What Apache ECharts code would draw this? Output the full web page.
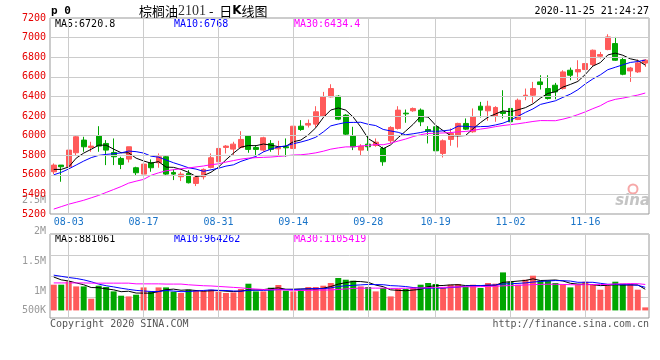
<!DOCTYPE html>
<html><head><meta charset="utf-8">
<script src="https://cdn.jsdelivr.net/npm/echarts@6/dist/echarts.min.js"></script>
<style>html,body{margin:0;padding:0;background:#fff}#c{width:660px;height:360px}</style>
</head><body><div id="c"></div>
<script>
const dates = ['07-30','07-31','08-03','08-04','08-05','08-06','08-07','08-10','08-11','08-12','08-13','08-14','08-17','08-18','08-19','08-20','08-21','08-24','08-25','08-26','08-27','08-28','08-31','09-01','09-02','09-03','09-04','09-07','09-08','09-09','09-10','09-11','09-14','09-15','09-16','09-17','09-18','09-21','09-22','09-23','09-24','09-25','09-28','09-29','09-30','10-09','10-12','10-13','10-14','10-15','10-16','10-19','10-20','10-21','10-22','10-23','10-26','10-27','10-28','10-29','10-30','11-02','11-03','11-04','11-05','11-06','11-09','11-10','11-11','11-12','11-13','11-16','11-17','11-18','11-19','11-20','11-23','11-24','11-25','11-26'];
const labelDates = ['08-03','08-17','08-31','09-14','09-28','10-19','11-02','11-16'];
const priceGridValues = [5400,5600,5800,6000,6200,6400,6600,6800,7000];
const opens  = [5631,5699,5682,5825,5954,5879,5995,5920,5828,5767,5760,5672,5607,5723,5723,5784,5624,5580,5614,5512,5580,5675,5733,5879,5862,5879,5995,5879,5852,5920,5865,5886,5869,6096,6107,6117,6198,6395,6402,6209,5995,5852,5913,5899,5869,5947,6073,6229,6253,6260,6062,6090,5818,5961,6005,6124,6039,6300,6253,6198,6243,6277,6164,6402,6412,6548,6480,6514,6480,6667,6650,6674,6725,6810,6878,6939,6776,6660,6650,6740];
const closes = [5699,5682,5852,5988,5886,5893,5893,5852,5784,5706,5886,5621,5709,5672,5784,5607,5607,5607,5519,5573,5655,5774,5869,5893,5913,5961,5859,5859,5978,5859,5879,5876,6096,6062,6124,6243,6395,6480,6168,6015,5886,5893,5886,5933,5733,6083,6260,6222,6277,6141,6045,5845,5947,6022,6124,6066,6192,6260,6300,6287,6226,6141,6361,6412,6480,6521,6378,6446,6650,6616,6674,6735,6871,6827,7007,6769,6626,6690,6742,6770];
const lows   = [5607,5529,5665,5801,5835,5835,5835,5699,5699,5658,5726,5597,5546,5631,5672,5587,5546,5536,5512,5485,5553,5665,5723,5818,5801,5869,5825,5801,5835,5835,5801,5784,5859,6049,6083,6083,6185,6389,6158,6005,5852,5801,5845,5886,5692,5920,6062,6131,6243,6097,5920,5818,5777,5896,5879,6056,6029,6185,6151,6141,6175,6107,6158,6361,6334,6470,6368,6371,6470,6565,6565,6667,6708,6786,6871,6762,6616,6548,6640,6701];
const highs  = [5716,5699,5903,6005,5988,5937,6096,5954,5971,5784,5886,5682,5791,5757,5818,5801,5655,5631,5648,5597,5665,5818,5886,5903,5937,6045,6005,5903,5988,5954,5947,5971,6107,6158,6164,6300,6446,6524,6412,6219,6090,5913,6005,5971,5886,6096,6300,6266,6287,6277,6096,6096,5961,6073,6131,6175,6277,6344,6355,6300,6463,6287,6378,6480,6548,6616,6616,6538,6667,6694,6769,6786,6878,6854,7034,7007,6803,6701,6776,6780];
const ma5  = [5655,5655,5680,5770,5821.4,5860.2,5902.4,5902.4,5861.6,5825.6,5824.2,5769.8,5741.2,5718.8,5734.4,5678.6,5675.8,5655.4,5624.8,5582.6,5592.2,5625.6,5678,5752.8,5820.8,5882,5899,5897,5914,5903.2,5886.8,5890.2,5937.6,5954.4,6007.4,6080.2,6184,6260.8,6282,6260.2,6188.8,6088.4,5969.6,5922.6,5866.2,5905.6,5979,6046.2,6115,6196.6,6189,6106,6051,6000,5996.6,6000.8,6070.2,6132.8,6188.4,6221,6253,6242.8,6263,6285.4,6324,6383,6430.4,6447.4,6495,6522.2,6552.8,6624.2,6709.2,6744.6,6822.8,6841.8,6820,6783.8,6766.8,6719.4];
const ma10 = [5600,5625,5660,5700,5740,5775,5798,5808,5815,5823.5,5842.2,5836.1,5821.8,5790.2,5780,5751.4,5722.8,5698.3,5671.8,5658.5,5635.4,5650.7,5666.7,5688.8,5701.7,5737.1,5762.3,5787.5,5833.4,5862,5884.4,5894.6,5917.3,5934.2,5955.3,5983.5,6037.1,6099.2,6118.2,6133.8,6134.5,6136.2,6115.2,6102.3,6063.2,6047.2,6033.7,6007.9,6018.8,6031.4,6047.3,6042.5,6048.6,6057.5,6096.6,6094.9,6088.1,6091.9,6094.2,6108.8,6126.9,6156.5,6197.9,6236.9,6272.5,6318,6336.6,6355.2,6390.2,6423.1,6467.9,6527.3,6578.3,6619.8,6672.5,6697.3,6722.1,6746.5,6755.7,6771.1];
const ma30 = [5250,5275,5300,5320,5340,5365,5390,5420,5450,5480,5515,5535,5553,5595,5620,5641,5652,5662,5670,5680,5690,5703,5712,5730,5745,5760,5770,5775,5778,5781.3,5787.3,5793.8,5801.9,5804.4,5812.3,5824,5840.7,5861.7,5874.5,5884.8,5884.8,5893.8,5899.7,5908.4,5906.7,5922.6,5944.4,5964.9,5990.1,6009.1,6022.1,6024.4,6027,6031.3,6038.4,6041.9,6053,6066.3,6077.1,6091.3,6102.9,6111.7,6120.6,6132.2,6144.1,6153.4,6152.8,6151.7,6167.7,6187.8,6214,6242.1,6274.9,6304.7,6347.2,6370.1,6382.3,6397.9,6413.4,6434.3];
const vols = [1094000,1094000,1234000,1021000,1021000,498000,1051000,996000,809000,626000,596000,668000,979000,796000,979000,979000,796000,740000,881000,838000,838000,881000,796000,740000,766000,911000,1136000,809000,809000,966000,1081000,838000,809000,868000,996000,996000,1051000,1166000,1379000,1306000,1264000,1021000,996000,809000,953000,596000,911000,911000,966000,1094000,1166000,1123000,953000,1094000,1123000,996000,1094000,953000,1166000,1136000,1617000,1221000,1094000,1306000,1477000,1264000,1264000,1166000,1094000,979000,1094000,1221000,1094000,881000,1051000,1221000,1136000,1136000,881000,128000];
const vma5 = [1420000,1300000,1250000,1170000,1093000,974000,965000,917000,875000,796000,816000,739000,736000,733000,804000,880000,906000,858000,875000,847000,819000,836000,847000,819000,804000,819000,870000,872000,886000,926000,960000,901000,901000,912000,918000,901000,944000,1015000,1118000,1180000,1233000,1227000,1193000,1079000,1009000,875000,853000,836000,867000,896000,1010000,1052000,1060000,1086000,1092000,1058000,1052000,1052000,1066000,1069000,1193000,1219000,1247000,1275000,1343000,1272000,1281000,1295000,1253000,1153000,1119000,1111000,1096000,1054000,1068000,1094000,1077000,1085000,1085000,900000];
const vma10 = [1500000,1450000,1400000,1360000,1300000,1220000,1120000,1050000,1000000,944000,895000,852000,827000,804000,800000,848000,822000,797000,804000,825000,849000,871000,852000,847000,826000,819000,853000,860000,852000,865000,890000,885000,887000,899000,922000,931000,922000,958000,1015000,1049000,1067000,1086000,1104000,1098000,1094000,1054000,1040000,1015000,973000,952000,942000,953000,948000,977000,994000,1034000,1052000,1056000,1076000,1080000,1126000,1135000,1149000,1171000,1206000,1233000,1250000,1271000,1264000,1248000,1196000,1196000,1196000,1153000,1111000,1107000,1094000,1091000,1069000,984000];
const vma30 = [1170000,1170000,1170000,1170000,1170000,1160000,1160000,1160000,1160000,1160000,1160000,1130000,1130000,1130000,1130000,1120000,1120000,1120000,1090000,1070000,1050000,1040000,1020000,1000000,980000,960000,930000,910000,890000,878000,878000,869000,855000,850000,849000,866000,866000,871000,890000,913000,935000,947000,948000,948000,947000,935000,938000,944000,947000,955000,966000,974000,980000,991000,1003000,1006000,1005000,1010000,1022000,1027000,1045000,1058000,1067000,1082000,1098000,1107000,1114000,1114000,1104000,1094000,1088000,1095000,1098000,1100000,1104000,1124000,1132000,1139000,1137000,1104000];
const volTickLabels = ['2.5M','2M','1.5M','1M','500K'];
const priceMA = ['MA5:6720.8','MA10:6768','MA30:6434.4'];
const volMA = ['MA5:881061','MA10:964262','MA30:1105419'];

const UP = '#ff5a5a', DOWN = '#00a600';
const MONO = '"DejaVu Sans Mono", "Liberation Mono", monospace';
const GRIDC = '#cccccc';
const kdata = dates.map((d, i) => [opens[i], closes[i], lows[i], highs[i]]);

const chart = echarts.init(document.getElementById('c'), null, {renderer: 'canvas'});
const volLabelY = [200, 231, 261, 291, 310];
const maColors = ['#000000', '#0000ff', '#ff00ff'];
const maX = [55, 174, 294];

const graphics = [
  {type: 'text', style: {text: 'p 0', x: 51, y: 11, fill: '#000', font: 'bold 11px ' + MONO, verticalAlign: 'middle', textVerticalAlign: 'middle'}},
  {type: 'text', style: {
    text: '{a|棕榈油}{b|2101}{a| -  日}{k|K}{a|线图}', x: 139, y: 11, verticalAlign: 'middle', textVerticalAlign: 'middle',
    rich: {
      a: {fontFamily: '"Noto Sans CJK SC"', fontSize: 13, fill: '#000', color: '#000'},
      b: {fontFamily: '"Liberation Serif", "DejaVu Serif", serif', fontSize: 14, fill: '#333', color: '#333'},
      k: {fontFamily: '"DejaVu Sans", sans-serif', fontSize: 12, fontWeight: 'bold', fill: '#000', color: '#000'}
    }}},
  {type: 'text', style: {text: '2020-11-25 21:24:27', x: 649, y: 11, fill: '#000', font: '10px ' + MONO, align: 'right', textAlign: 'right', verticalAlign: 'middle', textVerticalAlign: 'middle'}},
  {type: 'text', style: {text: 'Copyright 2020 SINA.COM', x: 50, y: 324, fill: '#555', font: '10px ' + MONO, verticalAlign: 'middle', textVerticalAlign: 'middle'}},
  {type: 'text', style: {text: 'http://finance.sina.com.cn', x: 649, y: 324, fill: '#555', font: '10px ' + MONO, align: 'right', textAlign: 'right', verticalAlign: 'middle', textVerticalAlign: 'middle'}},
  {type: 'circle', shape: {cx: 633, cy: 189, r: 4.5}, style: {fill: 'none', stroke: '#f6a8a8', lineWidth: 2}},
  {type: 'text', style: {text: 'sina', x: 650, y: 201, fill: '#c4c4c4', font: 'italic bold 15px "DejaVu Sans", sans-serif', align: 'right', textAlign: 'right', verticalAlign: 'middle', textVerticalAlign: 'middle'}}
];
priceMA.forEach((t, i) => graphics.push({type: 'text', style: {text: t, x: maX[i], y: 24, fill: maColors[i], font: '10px ' + MONO, verticalAlign: 'middle', textVerticalAlign: 'middle'}}));
volMA.forEach((t, i) => graphics.push({type: 'text', style: {text: t, x: maX[i], y: 239, fill: maColors[i], font: '10px ' + MONO, verticalAlign: 'middle', textVerticalAlign: 'middle'}}));
volTickLabels.forEach((t, i) => graphics.push({type: 'text', style: {text: t, x: 46, y: volLabelY[i], fill: '#999', font: '10px ' + MONO, align: 'right', textAlign: 'right', verticalAlign: 'middle', textVerticalAlign: 'middle'}}));

const gridLine = {color: GRIDC, width: 1, type: 'solid'};
const markGrid = (items) => ({
  silent: true, symbol: ['none', 'none'], label: {show: false}, animation: false,
  emphasis: {disabled: true},
  lineStyle: {color: GRIDC, width: 1, type: 'solid'},
  data: items
});
const lineSeries = (name, data, color, xi, yi) => ({
  name, type: 'line', data, xAxisIndex: xi, yAxisIndex: yi, symbol: 'none', smooth: false,
  lineStyle: {color, width: 1}, silent: true, z: 3
});

chart.setOption({
  animation: false,
  backgroundColor: '#fff',
  grid: [
    {left: 50, right: 11, top: 18, height: 196, show: true, borderColor: '#999', borderWidth: 1},
    {left: 50, right: 11, top: 234, height: 84, show: true, borderColor: '#999', borderWidth: 1}
  ],
  xAxis: [
    {type: 'category', data: dates, gridIndex: 0, boundaryGap: true,
     axisLine: {show: false}, axisTick: {show: false},
     axisLabel: {show: true, interval: (i, v) => labelDates.indexOf(v) >= 0, color: '#1a74c8', fontFamily: MONO, fontSize: 10, margin: 3},
     splitLine: {show: false}},
    {type: 'category', data: dates, gridIndex: 1, boundaryGap: true,
     axisLine: {show: false}, axisTick: {show: false}, axisLabel: {show: false},
     splitLine: {show: false}}
  ],
  yAxis: [
    {type: 'value', gridIndex: 0, min: 5200, max: 7200, interval: 200,
     axisLine: {show: false}, axisTick: {show: false},
     axisLabel: {color: '#e60000', fontFamily: MONO, fontSize: 10, margin: 4, formatter: v => String(v)},
     splitLine: {show: true, lineStyle: gridLine}},
    {type: 'value', gridIndex: 1, min: -323000, max: 3251000, show: false, splitLine: {show: false}},
    {type: 'value', gridIndex: 1, min: 0, max: 4, interval: 1,
     axisLine: {show: false}, axisTick: {show: false}, axisLabel: {show: false},
     splitLine: {show: true, lineStyle: gridLine}}
  ],
  series: [
    {name: 'grid0', type: 'line', data: closes, xAxisIndex: 0, yAxisIndex: 0, symbol: 'none', silent: true, z: 1,
     lineStyle: {opacity: 0, width: 0},
     markLine: markGrid(labelDates.map(d => ({xAxis: d})).concat(priceGridValues.map(v => ({yAxis: v}))))},
    {name: 'grid1', type: 'line', data: vols, xAxisIndex: 1, yAxisIndex: 1, symbol: 'none', silent: true, z: 1,
     lineStyle: {opacity: 0, width: 0},
     markLine: markGrid(labelDates.map(d => ({xAxis: d})))},
    {name: 'K', type: 'candlestick', data: kdata, xAxisIndex: 0, yAxisIndex: 0, barWidth: '72%', silent: true, z: 2,
     itemStyle: {color: UP, color0: DOWN, borderColor: UP, borderColor0: DOWN, borderWidth: 1}},
    lineSeries('MA5', ma5, '#000000', 0, 0),
    lineSeries('MA10', ma10, '#0000ff', 0, 0),
    lineSeries('MA30', ma30, '#ff00ff', 0, 0),
    {name: 'VOL', type: 'bar', data: vols, xAxisIndex: 1, yAxisIndex: 1, barWidth: '80%', silent: true, z: 2,
     itemStyle: {color: p => closes[p.dataIndex] >= opens[p.dataIndex] ? UP : DOWN}},
    lineSeries('VMA5', vma5, '#000000', 1, 1),
    lineSeries('VMA10', vma10, '#0000ff', 1, 1),
    lineSeries('VMA30', vma30, '#ff00ff', 1, 1)
  ],
  graphic: {elements: graphics}
});
</script></body></html>
